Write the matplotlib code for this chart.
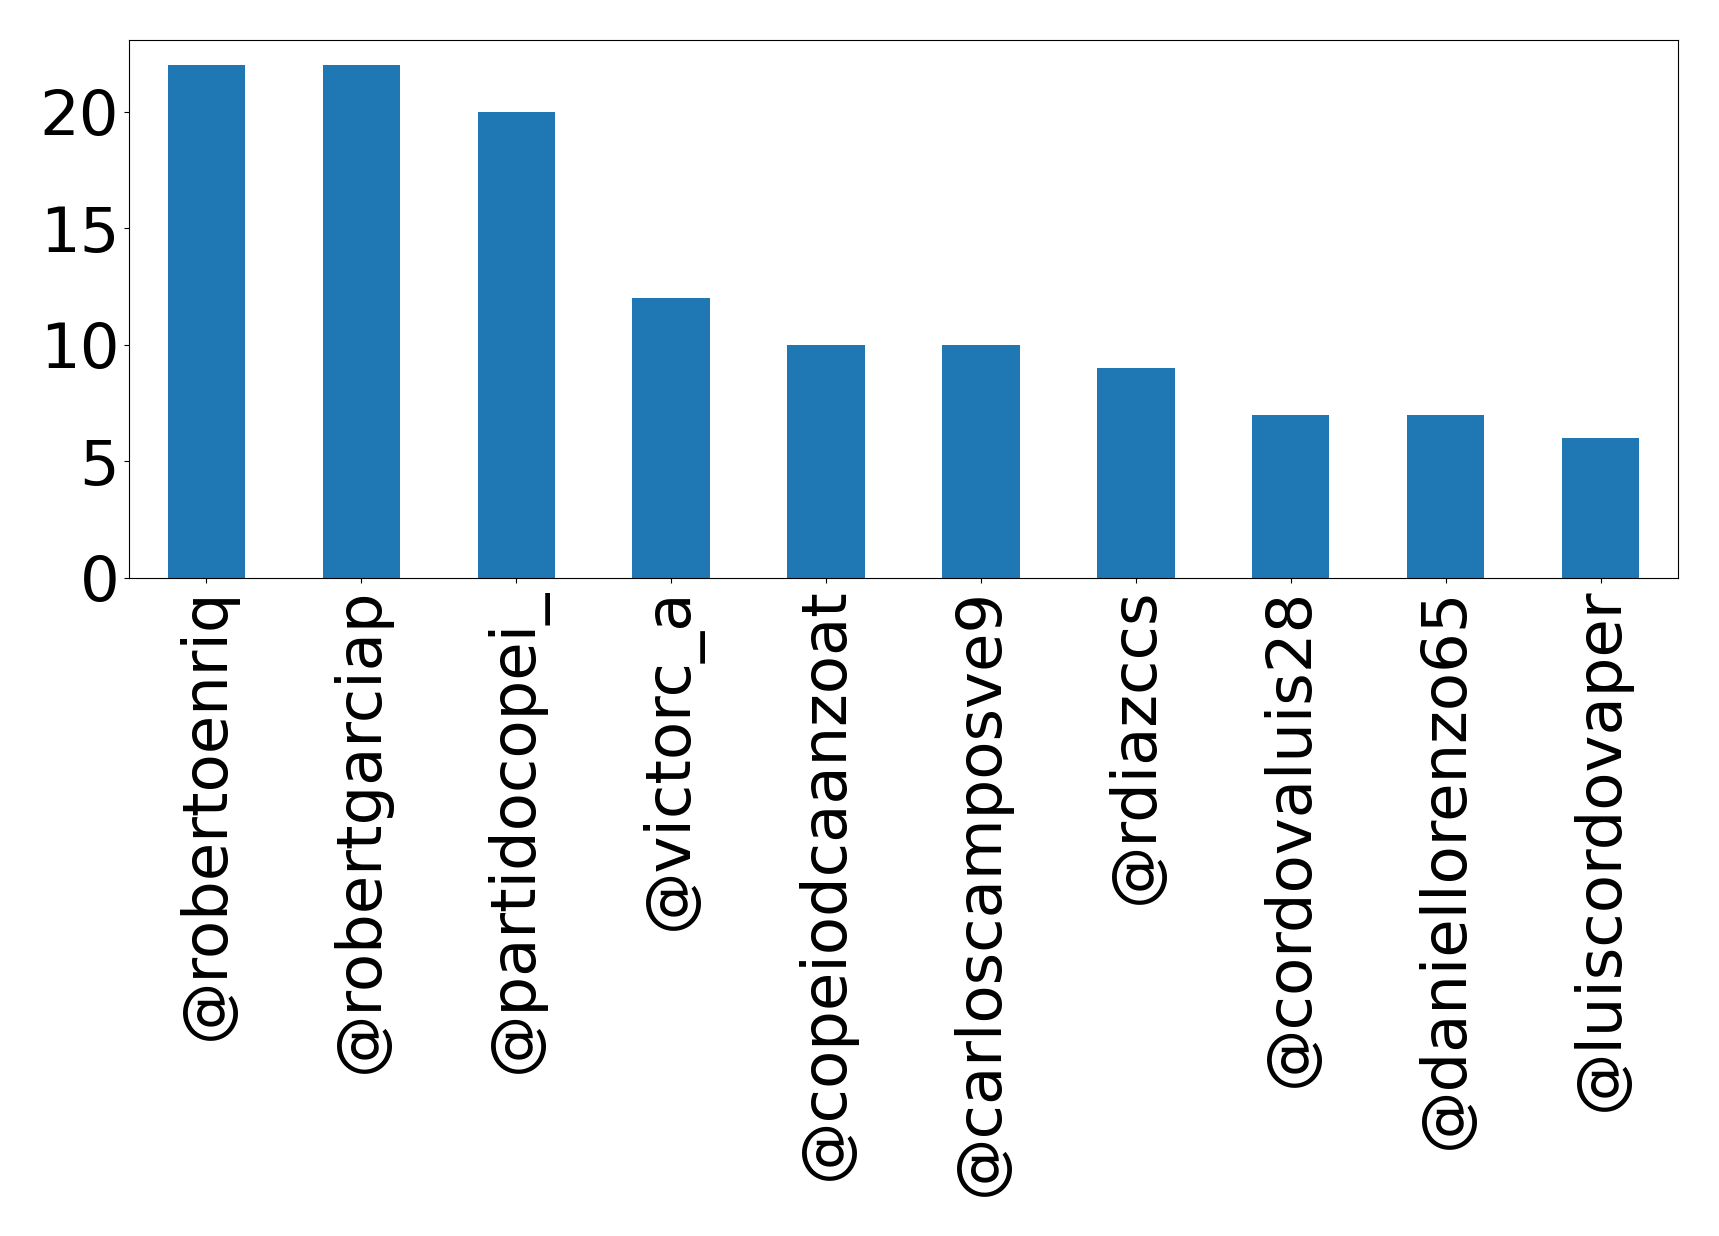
import matplotlib
matplotlib.use("Agg")
import matplotlib.pyplot as plt

users = ["@robertoenriq", "@robertgarciap", "@partidocopei_", "@victorc_a",
         "@copeiodcaanzoat", "@carloscamposve9", "@rdiazccs", "@cordovaluis28",
         "@daniellorenzo65", "@luiscordovaper"]
counts = [22, 22, 20, 12, 10, 10, 9, 7, 7, 6]

fig = plt.figure(figsize=(17.19, 12.36), dpi=100)
ax = fig.add_axes([129/1719, 1 - 578/1236, (1678-129)/1719, (578-39.5)/1236])
x = list(range(len(users)))
ax.bar(x, counts, width=0.5, color="#1f77b4")
ax.set_xlim(-0.5, len(users) - 0.5)
ax.set_ylim(0, 22 * 1.05)
ax.set_xticks(x)
ax.set_xticklabels(users, rotation=90)
ax.set_yticks([0, 5, 10, 15, 20])
ax.tick_params(labelsize=45)
fig.savefig("out.png", dpi=100)
